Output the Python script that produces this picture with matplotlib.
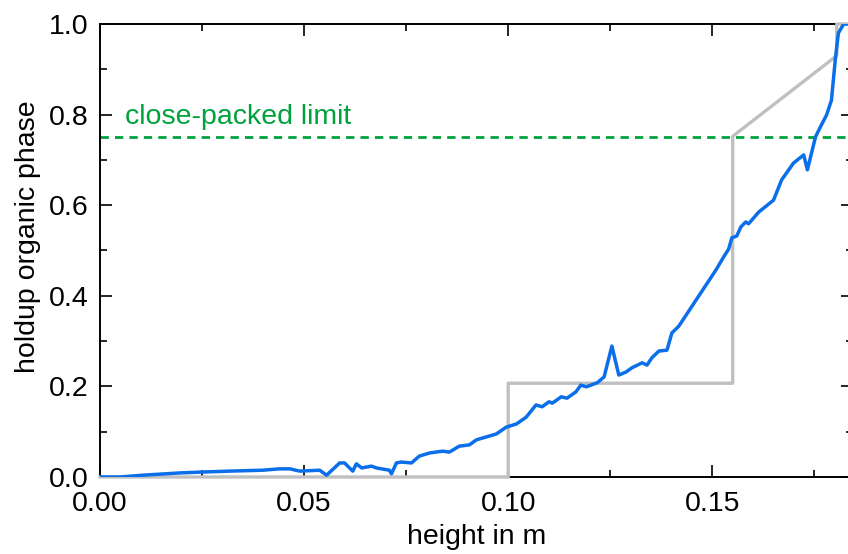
import matplotlib
matplotlib.use("Agg")
import matplotlib.pyplot as plt
from matplotlib.ticker import MultipleLocator

plt.rcParams['font.family'] = ['Liberation Sans', 'DejaVu Sans']

# measured holdup profile along the column
height = [0.0, 0.0049, 0.0105, 0.0196, 0.0252, 0.0318, 0.0399, 0.0440, 0.0465, 0.0489,
          0.0538, 0.0555, 0.0587, 0.0599, 0.0619, 0.0628, 0.0641, 0.0665, 0.0677, 0.0709,
          0.0714, 0.0726, 0.0738, 0.0763, 0.0782, 0.0807, 0.0839, 0.0856, 0.0880, 0.0905,
          0.0922, 0.0971, 0.0995, 0.1020, 0.1044, 0.1068, 0.1083, 0.1100, 0.1108, 0.1130,
          0.1144, 0.1166, 0.1178, 0.1191, 0.1218, 0.1235, 0.1254, 0.1271, 0.1289, 0.1303,
          0.1328, 0.1340, 0.1352, 0.1369, 0.1389, 0.1401, 0.1418, 0.1509, 0.1528, 0.1540,
          0.1548, 0.1560, 0.1570, 0.1582, 0.1589, 0.1614, 0.1650, 0.1670, 0.1699, 0.1724,
          0.1733, 0.1753, 0.1765, 0.1780, 0.1792, 0.1802, 0.1809, 0.1822, 0.1835]
holdup = [0.0, 0.0, 0.004, 0.009, 0.011, 0.013, 0.015, 0.018, 0.018, 0.013,
          0.015, 0.004, 0.031, 0.031, 0.013, 0.029, 0.020, 0.024, 0.020, 0.015,
          0.007, 0.031, 0.033, 0.031, 0.046, 0.053, 0.057, 0.055, 0.068, 0.071,
          0.082, 0.095, 0.110, 0.117, 0.132, 0.159, 0.155, 0.166, 0.163, 0.177,
          0.174, 0.188, 0.203, 0.199, 0.208, 0.221, 0.289, 0.225, 0.232, 0.241,
          0.252, 0.247, 0.263, 0.278, 0.280, 0.318, 0.333, 0.457, 0.486, 0.503,
          0.528, 0.532, 0.552, 0.563, 0.559, 0.585, 0.611, 0.656, 0.693, 0.711,
          0.678, 0.751, 0.773, 0.799, 0.832, 0.927, 0.980, 1.0, 1.0]

# stepwise model profile
model_height = [0.0, 0.1, 0.1, 0.155, 0.155, 0.1805, 0.1805, 0.19]
model_holdup = [0.0, 0.0, 0.207, 0.207, 0.752, 0.93, 1.0, 1.0]

close_packed = 0.75

fig = plt.figure(figsize=(8.48, 5.54), dpi=100)
ax = fig.add_axes([0.118, 0.139, 0.888, 0.8177])

ax.axhline(close_packed, color='#00a23c', lw=2.0, ls=(0, (3, 2.2)), zorder=2)
ax.text(0.0061, 0.779, 'close-packed limit', color='#00a23c', fontsize=20.5,
        va='baseline', ha='left')
ax.plot(model_height, model_holdup, color='#c0c0c0', lw=2.4, zorder=3, clip_on=False)
ax.plot(height, holdup, color='#0a6fe8', lw=2.5, zorder=4)

ax.set_xlim(0, 0.1845)
ax.set_ylim(0, 1.0)
ax.xaxis.set_major_locator(MultipleLocator(0.05))
ax.xaxis.set_minor_locator(MultipleLocator(0.025))
ax.yaxis.set_major_locator(MultipleLocator(0.2))
ax.yaxis.set_minor_locator(MultipleLocator(0.1))
ax.xaxis.set_major_formatter(plt.FormatStrFormatter('%.2f'))
ax.yaxis.set_major_formatter(plt.FormatStrFormatter('%.1f'))

ax.tick_params(which='both', direction='in', top=True, right=True, width=1.2,
               labelsize=20.5, color='black')
ax.tick_params(which='major', length=8.5)
ax.tick_params(which='minor', length=4.8)
ax.tick_params(axis='y', pad=8)
ax.tick_params(axis='x', pad=10)
for side in ['left', 'top', 'bottom', 'right']:
    ax.spines[side].set_linewidth(1.4)

ax.set_xlabel('height in m', fontsize=20.5, labelpad=5)
ax.set_ylabel('holdup organic phase', fontsize=20.5)
ax.yaxis.set_label_coords(-0.079, 0.53)

fig.savefig('out.png', dpi=100)
